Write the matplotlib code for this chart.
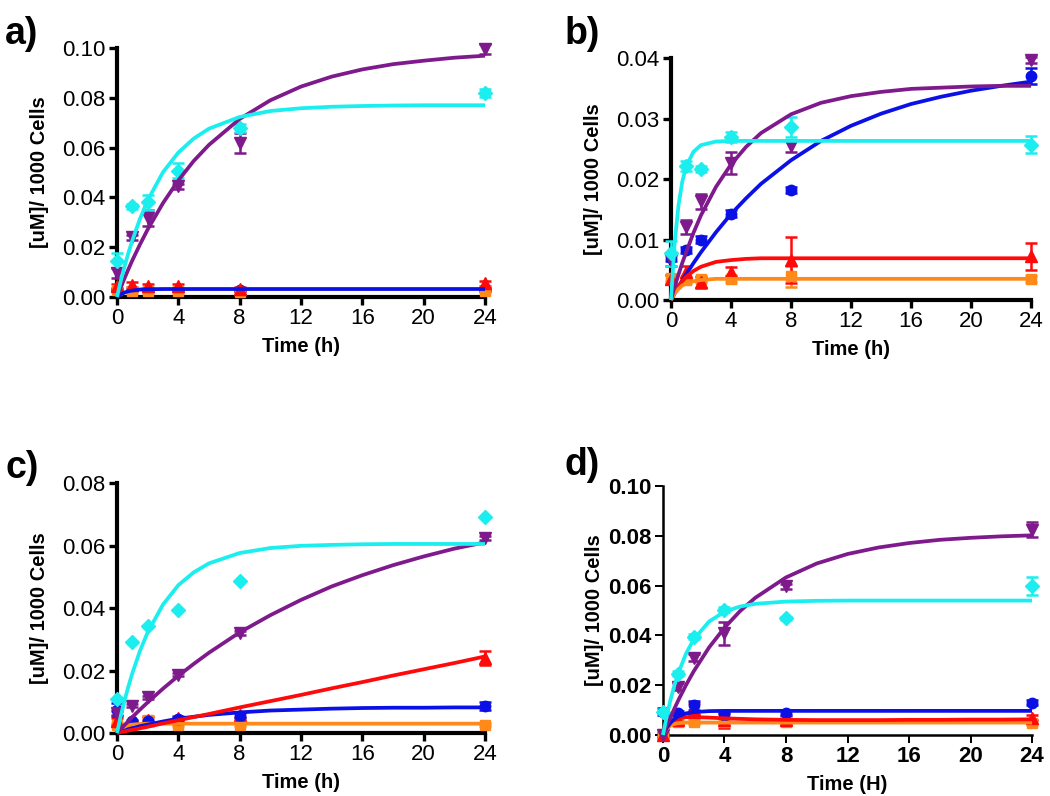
import numpy as np
import matplotlib
matplotlib.use("Agg")
import matplotlib.pyplot as plt

plt.rcParams['font.family'] = ['Liberation Sans', 'DejaVu Sans']

# sampling times
t = [0, 1, 2, 4, 8, 24]
tf = [0, 0.25, 0.5, 0.75, 1, 1.5, 2, 3, 4, 5, 6, 8, 10, 12, 14, 16, 18, 20, 22, 24]

purple = '#7f1a8c'
cyan = '#1aeeee'
blue = '#0a10e6'
red = '#ff0a0a'
orange = '#ff8a1a'

# ---- panel a ----
a_purple = [0.0096, 0.024, 0.0317, 0.0444, 0.0618, 0.0995]
a_purple_err = [0.002, 0.001, 0.0033, 0.001, 0.004, 0.002]
a_cyan = [0.0146, 0.0364, 0.038, 0.0507, 0.0679, 0.0819]
a_cyan_err = [0.003, 0.001, 0.003, 0.003, 0.0015, 0.0015]
a_blue = [0.003, 0.0028, 0.003, 0.003, 0.003, 0.003]
a_blue_err = [0.0005, 0.0005, 0.0005, 0.0005, 0.0005, 0.0005]
a_red = [0.0043, 0.005, 0.0043, 0.0043, 0.0032, 0.0056]
a_red_err = [0.001, 0.001, 0.0008, 0.0008, 0.0008, 0.001]
a_orange = [0.003, 0.0023, 0.0023, 0.0023, 0.002, 0.0025]
a_orange_err = [0.0005, 0.0005, 0.0005, 0.0005, 0.0005, 0.0005]
a_purple_fit = [0, 0.0039, 0.0076, 0.0112, 0.0147, 0.0211, 0.0271, 0.0377, 0.0468, 0.0546,
                0.0611, 0.0715, 0.0790, 0.0845, 0.0885, 0.0914, 0.0935, 0.0949, 0.0961, 0.0969]
a_cyan_fit = [0, 0.0065, 0.0124, 0.0178, 0.0227, 0.0314, 0.0388, 0.0501, 0.0580, 0.0636,
              0.0676, 0.0723, 0.0747, 0.0758, 0.0764, 0.0767, 0.0769, 0.0770, 0.0770, 0.0770]
a_blue_fit = [0, 0.0010, 0.0018, 0.0023, 0.0026, 0.0030, 0.0031, 0.0032, 0.0032, 0.0032,
              0.0032, 0.0032, 0.0032, 0.0032, 0.0032, 0.0032, 0.0032, 0.0032, 0.0032, 0.0032]

# ---- panel b ----
b_purple = [0.0066, 0.0121, 0.0163, 0.0226, 0.0254, 0.0397]
b_purple_err = [0.001, 0.0012, 0.0012, 0.0018, 0.001, 0.0005]
b_cyan = [0.0077, 0.0221, 0.0216, 0.027, 0.0286, 0.0257]
b_cyan_err = [0.002, 0.0008, 0.0005, 0.0008, 0.0016, 0.0014]
b_blue = [0.0069, 0.0083, 0.01, 0.0143, 0.0182, 0.037]
b_blue_err = [0.0005, 0.0005, 0.0005, 0.0005, 0.0005, 0.0013]
b_red = [0.0034, 0.0047, 0.0029, 0.0047, 0.0066, 0.0072]
b_red_err = [0.0008, 0.001, 0.0009, 0.0008, 0.0038, 0.0022]
b_orange = [0.0036, 0.0033, 0.0034, 0.0034, 0.0039, 0.0034]
b_orange_err = [0.0005, 0.0005, 0.0005, 0.0005, 0.0017, 0.0005]
b_purple_fit = [0, 0.0022, 0.0042, 0.0061, 0.0078, 0.0111, 0.0140, 0.0187, 0.0224, 0.0253,
                0.0276, 0.0307, 0.0326, 0.0337, 0.0344, 0.0349, 0.0351, 0.0353, 0.0354, 0.0354]
b_cyan_fit = [0, 0.0095, 0.0156, 0.0195, 0.0220, 0.0245, 0.0256, 0.0262, 0.0263, 0.0263,
              0.0263, 0.0263, 0.0263, 0.0263, 0.0263, 0.0263, 0.0263, 0.0263, 0.0263, 0.0263]
b_blue_fit = [0, 0.0011, 0.0022, 0.0032, 0.0042, 0.0061, 0.0079, 0.0112, 0.0142, 0.0168,
              0.0192, 0.0231, 0.0263, 0.0288, 0.0308, 0.0324, 0.0336, 0.0346, 0.0354, 0.0361]
b_red_fit = [0, 0.0012, 0.0023, 0.0031, 0.0038, 0.0048, 0.0055, 0.0063, 0.0066, 0.0068,
             0.0069, 0.0069, 0.0069, 0.0069, 0.0069, 0.0069, 0.0069, 0.0069, 0.0069, 0.0069]
b_orange_fit = [0, 0.0011, 0.0018, 0.0024, 0.0027, 0.0031, 0.0033, 0.0035, 0.0035, 0.0035,
                0.0035, 0.0035, 0.0035, 0.0035, 0.0035, 0.0035, 0.0035, 0.0035, 0.0035, 0.0035]

# ---- panel c ----
c_purple = [0.0064, 0.0087, 0.0115, 0.0187, 0.032, 0.0624]
c_purple_err = [0.0005, 0.0005, 0.0005, 0.0005, 0.0005, 0.0005]
c_cyan = [0.0109, 0.029, 0.0341, 0.0393, 0.0485, 0.0691]
c_cyan_err = [0, 0, 0, 0, 0, 0]
c_blue = [0.0075, 0.0037, 0.0037, 0.0045, 0.0055, 0.0087]
c_blue_err = [0.002, 0.0005, 0.0005, 0.0005, 0.0008, 0.0013]
c_red = [0.0037, 0.0032, 0.0043, 0.0048, 0.0059, 0.024]
c_red_err = [0.001, 0.0005, 0.0008, 0.0005, 0.0008, 0.0022]
c_orange = [0.0027, 0.003, 0.0043, 0.0027, 0.0027, 0.0027]
c_orange_err = [0.0005, 0.0005, 0.0012, 0.0005, 0.0005, 0.0005]
c_purple_fit = [0, 0.0013, 0.0026, 0.0038, 0.0051, 0.0075, 0.0098, 0.0142, 0.0183, 0.0221,
                0.0257, 0.0322, 0.0377, 0.0426, 0.0469, 0.0505, 0.0537, 0.0565, 0.0590, 0.0610]
c_cyan_fit = [0, 0.0055, 0.0105, 0.0150, 0.0191, 0.0263, 0.0322, 0.0411, 0.0473, 0.0514,
              0.0543, 0.0576, 0.0592, 0.0599, 0.0602, 0.0604, 0.0605, 0.0605, 0.0605, 0.0605]
c_blue_fit = [0, 0.0004, 0.0008, 0.0012, 0.0015, 0.0022, 0.0027, 0.0037, 0.0046, 0.0052,
              0.0058, 0.0066, 0.0072, 0.0075, 0.0078, 0.0080, 0.0081, 0.0081, 0.0082, 0.0082]
c_red_fit = [0, 0.0003, 0.0005, 0.0008, 0.0010, 0.0015, 0.0020, 0.0031, 0.0041, 0.0051,
             0.0061, 0.0082, 0.0102, 0.0122, 0.0143, 0.0163, 0.0184, 0.0204, 0.0224, 0.0245]
c_orange_fit = [0, 0.0012, 0.0020, 0.0025, 0.0027, 0.0029, 0.0030, 0.0030, 0.0030, 0.0030,
                0.0030, 0.0030, 0.0030, 0.0030, 0.0030, 0.0030, 0.0030, 0.0030, 0.0030, 0.0030]

# ---- panel d ----
d_purple = [0.0, 0.0194, 0.0311, 0.0408, 0.0598, 0.0825]
d_purple_err = [0.0005, 0.0015, 0.0015, 0.0045, 0.001, 0.003]
d_cyan = [0.0094, 0.0247, 0.0394, 0.0504, 0.0468, 0.0599]
d_cyan_err = [0.001, 0.001, 0.001, 0.001, 0.0005, 0.0035]
d_blue = [0.0094, 0.0087, 0.012, 0.008, 0.009, 0.013]
d_blue_err = [0.0015, 0.001, 0.0018, 0.001, 0.001, 0.001]
d_red = [0.0, 0.006, 0.0103, 0.006, 0.006, 0.007]
d_red_err = [0.001, 0.0015, 0.0025, 0.003, 0.0015, 0.001]
d_orange = [0.0005, 0.0053, 0.0053, 0.0053, 0.0053, 0.005]
d_orange_err = [0.001, 0.001, 0.001, 0.001, 0.001, 0.001]
d_purple_fit = [0, 0.0038, 0.0073, 0.0107, 0.0140, 0.0201, 0.0256, 0.0352, 0.0431, 0.0497,
                0.0551, 0.0633, 0.0689, 0.0727, 0.0753, 0.0771, 0.0784, 0.0792, 0.0798, 0.0802]
d_cyan_fit = [0, 0.0078, 0.0144, 0.0201, 0.0249, 0.0327, 0.0384, 0.0456, 0.0495, 0.0516,
              0.0527, 0.0536, 0.0539, 0.0540, 0.0540, 0.0540, 0.0540, 0.0540, 0.0540, 0.0540]
d_blue_fit = [0, 0.0030, 0.0051, 0.0065, 0.0075, 0.0087, 0.0092, 0.0096, 0.0097, 0.0097,
              0.0097, 0.0097, 0.0097, 0.0097, 0.0097, 0.0097, 0.0097, 0.0097, 0.0097, 0.0097]
d_red_fit = [0, 0.0030, 0.0050, 0.0062, 0.0068, 0.0072, 0.0072, 0.0070, 0.0067, 0.0065,
             0.0063, 0.0061, 0.0060, 0.0060, 0.0060, 0.0061, 0.0061, 0.0062, 0.0062, 0.0063]
d_orange_fit = [0, 0.0025, 0.0038, 0.0045, 0.0048, 0.0050, 0.0050, 0.0050, 0.0050, 0.0050,
                0.0050, 0.0050, 0.0050, 0.0050, 0.0050, 0.0050, 0.0050, 0.0050, 0.0050, 0.0050]


fig = plt.figure(figsize=(10.5, 7.96), dpi=100)


def draw(ax, series, fits, ymax, ystep, xlab, bold_ticks=False, spine_w=3.0, ypad=10):
    for y, err, col, mk, ms in series:
        ax.errorbar(t, y, yerr=err, fmt=mk, color=col, ms=ms, mec=col,
                    elinewidth=1.8, capsize=4.5, capthick=1.8, clip_on=False, zorder=3)
    for y, col in fits:
        ax.plot(tf, y, color=col, lw=2.7, solid_capstyle='butt', clip_on=False, zorder=4)
    ax.set_xlim(0, 24)
    ax.set_ylim(0, ymax)
    ax.set_xticks([0, 4, 8, 12, 16, 20, 24])
    ax.set_yticks(np.arange(0, ymax + ystep / 2, ystep))
    ax.yaxis.set_major_formatter(matplotlib.ticker.FormatStrFormatter('%.2f'))
    for s in ['top', 'right']:
        ax.spines[s].set_visible(False)
    for s in ['left', 'bottom']:
        ax.spines[s].set_linewidth(spine_w)
    ax.tick_params(direction='out', length=6, width=spine_w * 0.8, labelsize=16, pad=2)
    if bold_ticks:
        for lbl in ax.get_xticklabels() + ax.get_yticklabels():
            lbl.set_fontweight('bold')
    ax.set_xlabel(xlab, fontsize=14.5, fontweight='bold', labelpad=6)
    ax.set_ylabel('[uM]/ 1000 Cells', fontsize=14.5, fontweight='bold', labelpad=ypad)


ax_a = fig.add_axes([0.1114, 0.6269, 0.3505, 0.3128])
draw(ax_a,
     [(a_blue, a_blue_err, blue, 'o', 7.5), (a_orange, a_orange_err, orange, 's', 7.5),
      (a_red, a_red_err, red, '^', 8.5), (a_purple, a_purple_err, purple, 'v', 8.5),
      (a_cyan, a_cyan_err, cyan, 'D', 7)],
     [(a_blue_fit, blue), (a_purple_fit, purple), (a_cyan_fit, cyan)],
     0.10, 0.02, 'Time (h)')

ax_b = fig.add_axes([0.639, 0.6231, 0.343, 0.304])
draw(ax_b,
     [(b_orange, b_orange_err, orange, 's', 7.5), (b_red, b_red_err, red, '^', 8.5),
      (b_blue, b_blue_err, blue, 'o', 7.5), (b_purple, b_purple_err, purple, 'v', 8.5),
      (b_cyan, b_cyan_err, cyan, 'D', 7)],
     [(b_blue_fit, blue), (b_red_fit, red), (b_orange_fit, orange),
      (b_purple_fit, purple), (b_cyan_fit, cyan)],
     0.04, 0.01, 'Time (h)')

ax_c = fig.add_axes([0.1114, 0.0791, 0.3505, 0.3141])
draw(ax_c,
     [(c_orange, c_orange_err, orange, 's', 7.5), (c_red, c_red_err, red, '^', 8.5),
      (c_blue, c_blue_err, blue, 'o', 7.5), (c_purple, c_purple_err, purple, 'v', 8.5),
      (c_cyan, c_cyan_err, cyan, 'D', 7)],
     [(c_orange_fit, orange), (c_blue_fit, blue), (c_red_fit, red),
      (c_purple_fit, purple), (c_cyan_fit, cyan)],
     0.08, 0.02, 'Time (h)')

ax_d = fig.add_axes([0.6314, 0.0766, 0.3515, 0.3128])
draw(ax_d,
     [(d_orange, d_orange_err, orange, 's', 7.5), (d_red, d_red_err, red, '^', 8.5),
      (d_blue, d_blue_err, blue, 'o', 7.5), (d_purple, d_purple_err, purple, 'v', 8.5),
      (d_cyan, d_cyan_err, cyan, 'D', 7)],
     [(d_orange_fit, orange), (d_red_fit, red), (d_blue_fit, blue),
      (d_purple_fit, purple), (d_cyan_fit, cyan)],
     0.10, 0.02, 'Time (H)', bold_ticks=True, spine_w=1.8, ypad=3)

# panel letters
for x, y, s in [(0.005, 0.98, 'a)'), (0.538, 0.98, 'b)'),
                (0.005, 0.435, 'c)'), (0.538, 0.438, 'd)')]:
    fig.text(x, y, s, fontsize=27, fontweight='bold', va='top', ha='left')

fig.savefig('out.png', dpi=100)
